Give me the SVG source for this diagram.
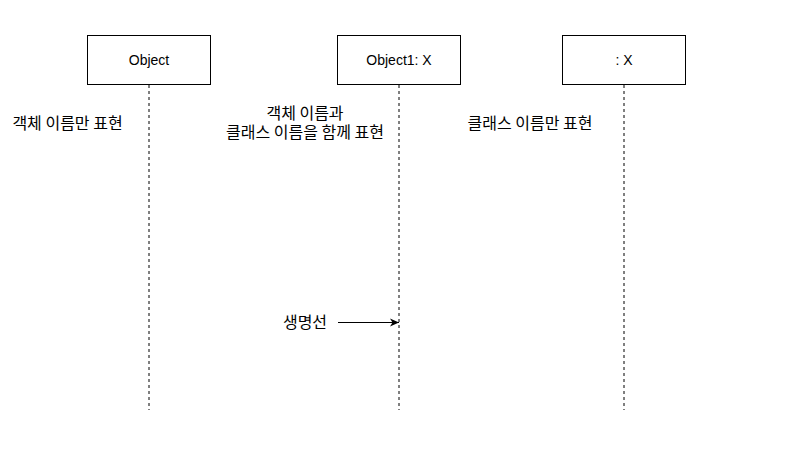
<svg xmlns="http://www.w3.org/2000/svg" width="795" height="460" viewBox="0 0 795 460">
<style>
.box{fill:#fff;stroke:#000;stroke-width:1}
.life{stroke:#000;stroke-width:1;stroke-dasharray:3 3;fill:none}
.lbl{font-family:"Liberation Sans",Arial,sans-serif;font-size:14px;fill:#000;text-anchor:middle}
.ko{font-family:"Noto Sans CJK KR","Liberation Sans",sans-serif;font-size:16px;fill:#000;text-anchor:middle}
.conn{stroke:#000;stroke-width:1;fill:none}
</style>
<defs>
<marker id="arr" viewBox="0 0 10 10" refX="9" refY="5" markerWidth="10" markerHeight="10" markerUnits="userSpaceOnUse" orient="auto">
<path d="M0,1 L9,5 L0,9 L2.5,5 Z" fill="#000"/>
</marker>
</defs>
<rect width="795" height="460" fill="#fff"/>
<g id="lifeline-object">
<rect class="box" x="87.5" y="35.5" width="123" height="49"/>
<line class="life" x1="149" y1="85" x2="149" y2="410"/>
<text class="lbl" x="149" y="65">Object</text>
</g>
<g id="lifeline-object1">
<rect class="box" x="337.5" y="35.5" width="123" height="49"/>
<line class="life" x1="399" y1="85" x2="399" y2="410"/>
<text class="lbl" x="399" y="65">Object1: X</text>
</g>
<g id="lifeline-x">
<rect class="box" x="562.5" y="35.5" width="123" height="49"/>
<line class="life" x1="624" y1="85" x2="624" y2="410"/>
<text class="lbl" x="624" y="65">: X</text>
</g>
<g id="note-object">
<text class="ko" x="67.5" y="129">객체 이름만 표현</text>
</g>
<g id="note-object1">
<text class="ko" x="305" y="118.5">객체 이름과</text>
<text class="ko" x="305" y="137.5">클래스 이름을 함께 표현</text>
</g>
<g id="note-x">
<text class="ko" x="530" y="129">클래스 이름만 표현</text>
</g>
<g id="label-lifeline">
<text class="ko" x="305" y="328">생명선</text>
</g>
<g id="connectors">
<line class="conn" x1="338" y1="322.5" x2="399" y2="322.5" marker-end="url(#arr)"/>
</g>
</svg>
